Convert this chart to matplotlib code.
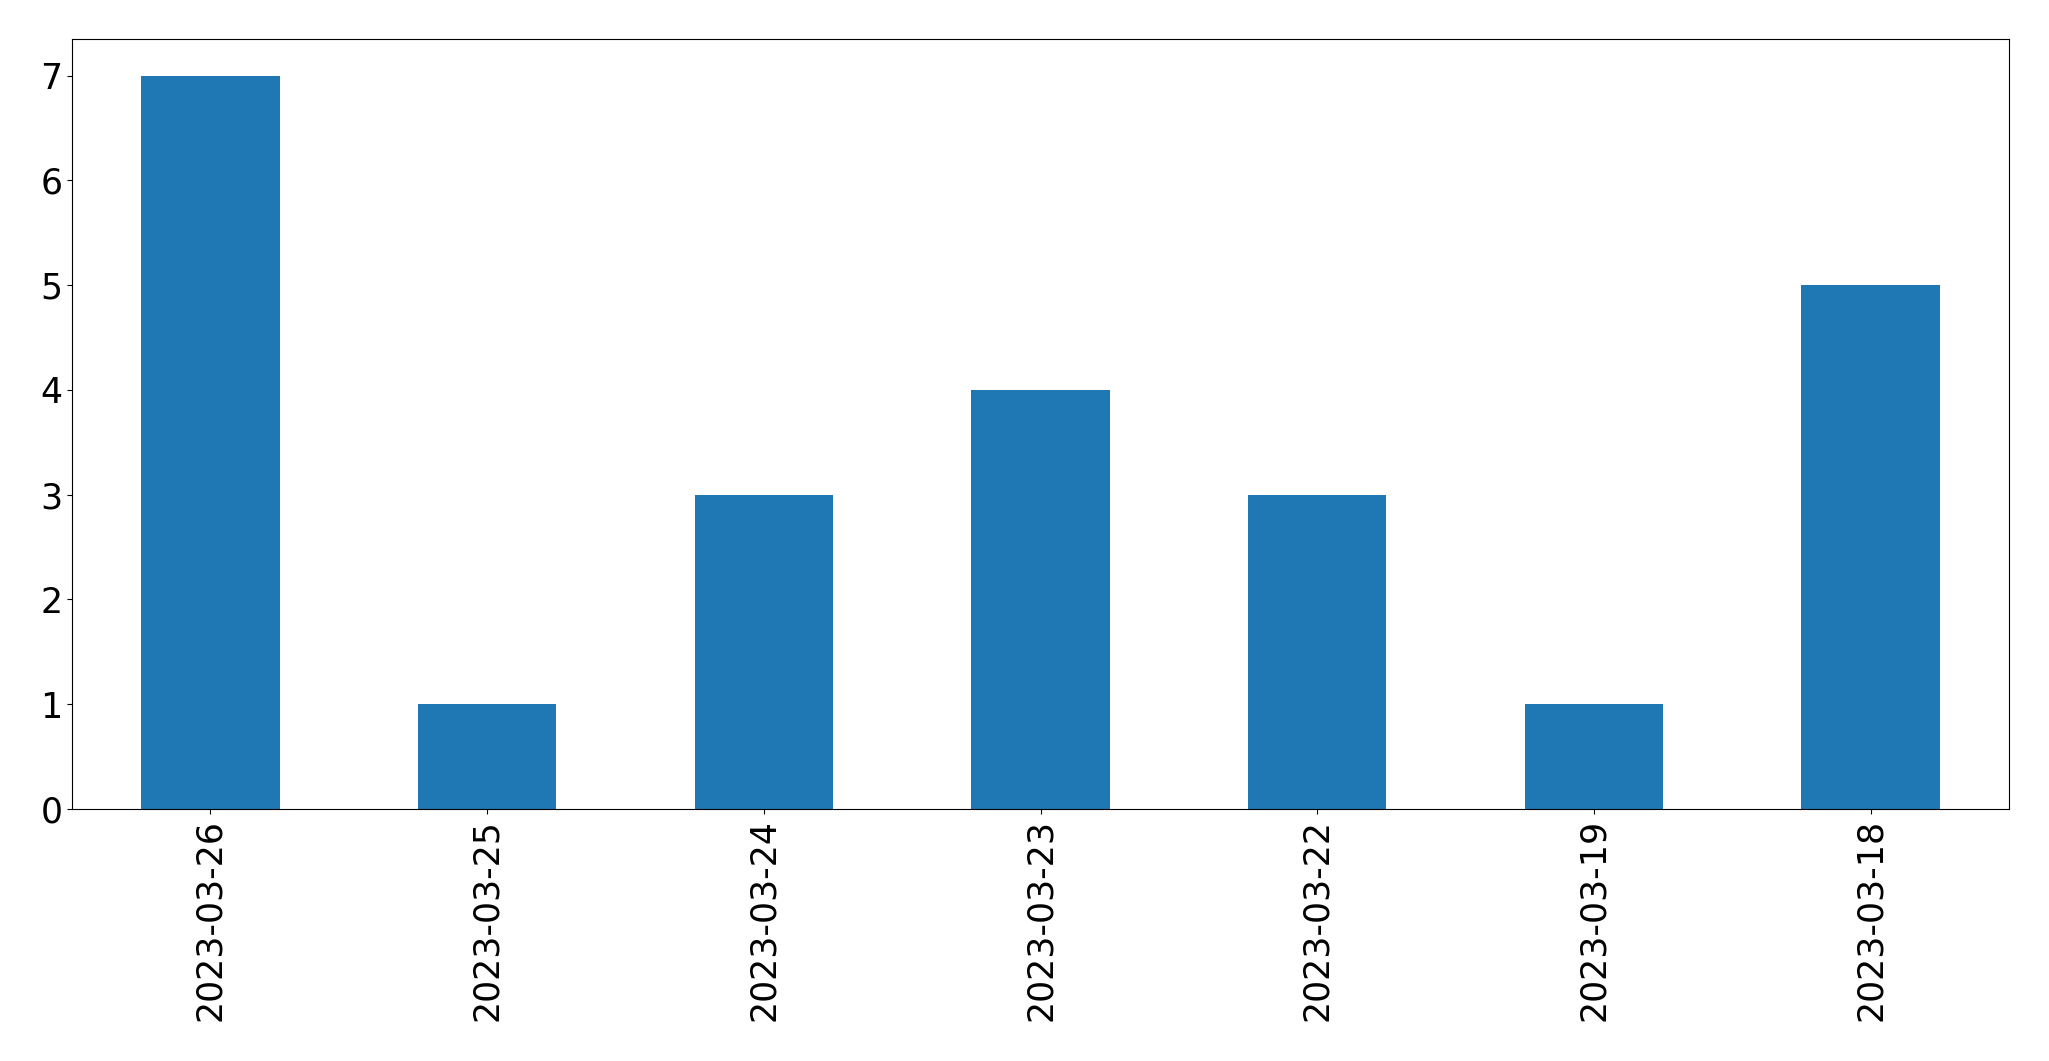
import matplotlib
matplotlib.use('Agg')
import matplotlib.pyplot as plt
import numpy as np

dates = ['2023-03-26', '2023-03-25', '2023-03-24', '2023-03-23',
         '2023-03-22', '2023-03-19', '2023-03-18']
counts = [7, 1, 3, 4, 3, 1, 5]

fig, ax = plt.subplots(figsize=(20.49, 10.61), dpi=100)
fig.subplots_adjust(left=72 / 2049, right=2009 / 2049, top=1 - 39 / 1061, bottom=1 - 809 / 1061)

x = np.arange(len(dates))
ax.bar(x, counts, width=0.5, color='#1f77b4')
ax.set_xlim(-0.5, len(dates) - 0.5)
ax.set_xticks(x)
ax.set_xticklabels(dates, rotation=90)
ax.tick_params(axis='both', labelsize=25)

fig.savefig('out.png', dpi=100)
